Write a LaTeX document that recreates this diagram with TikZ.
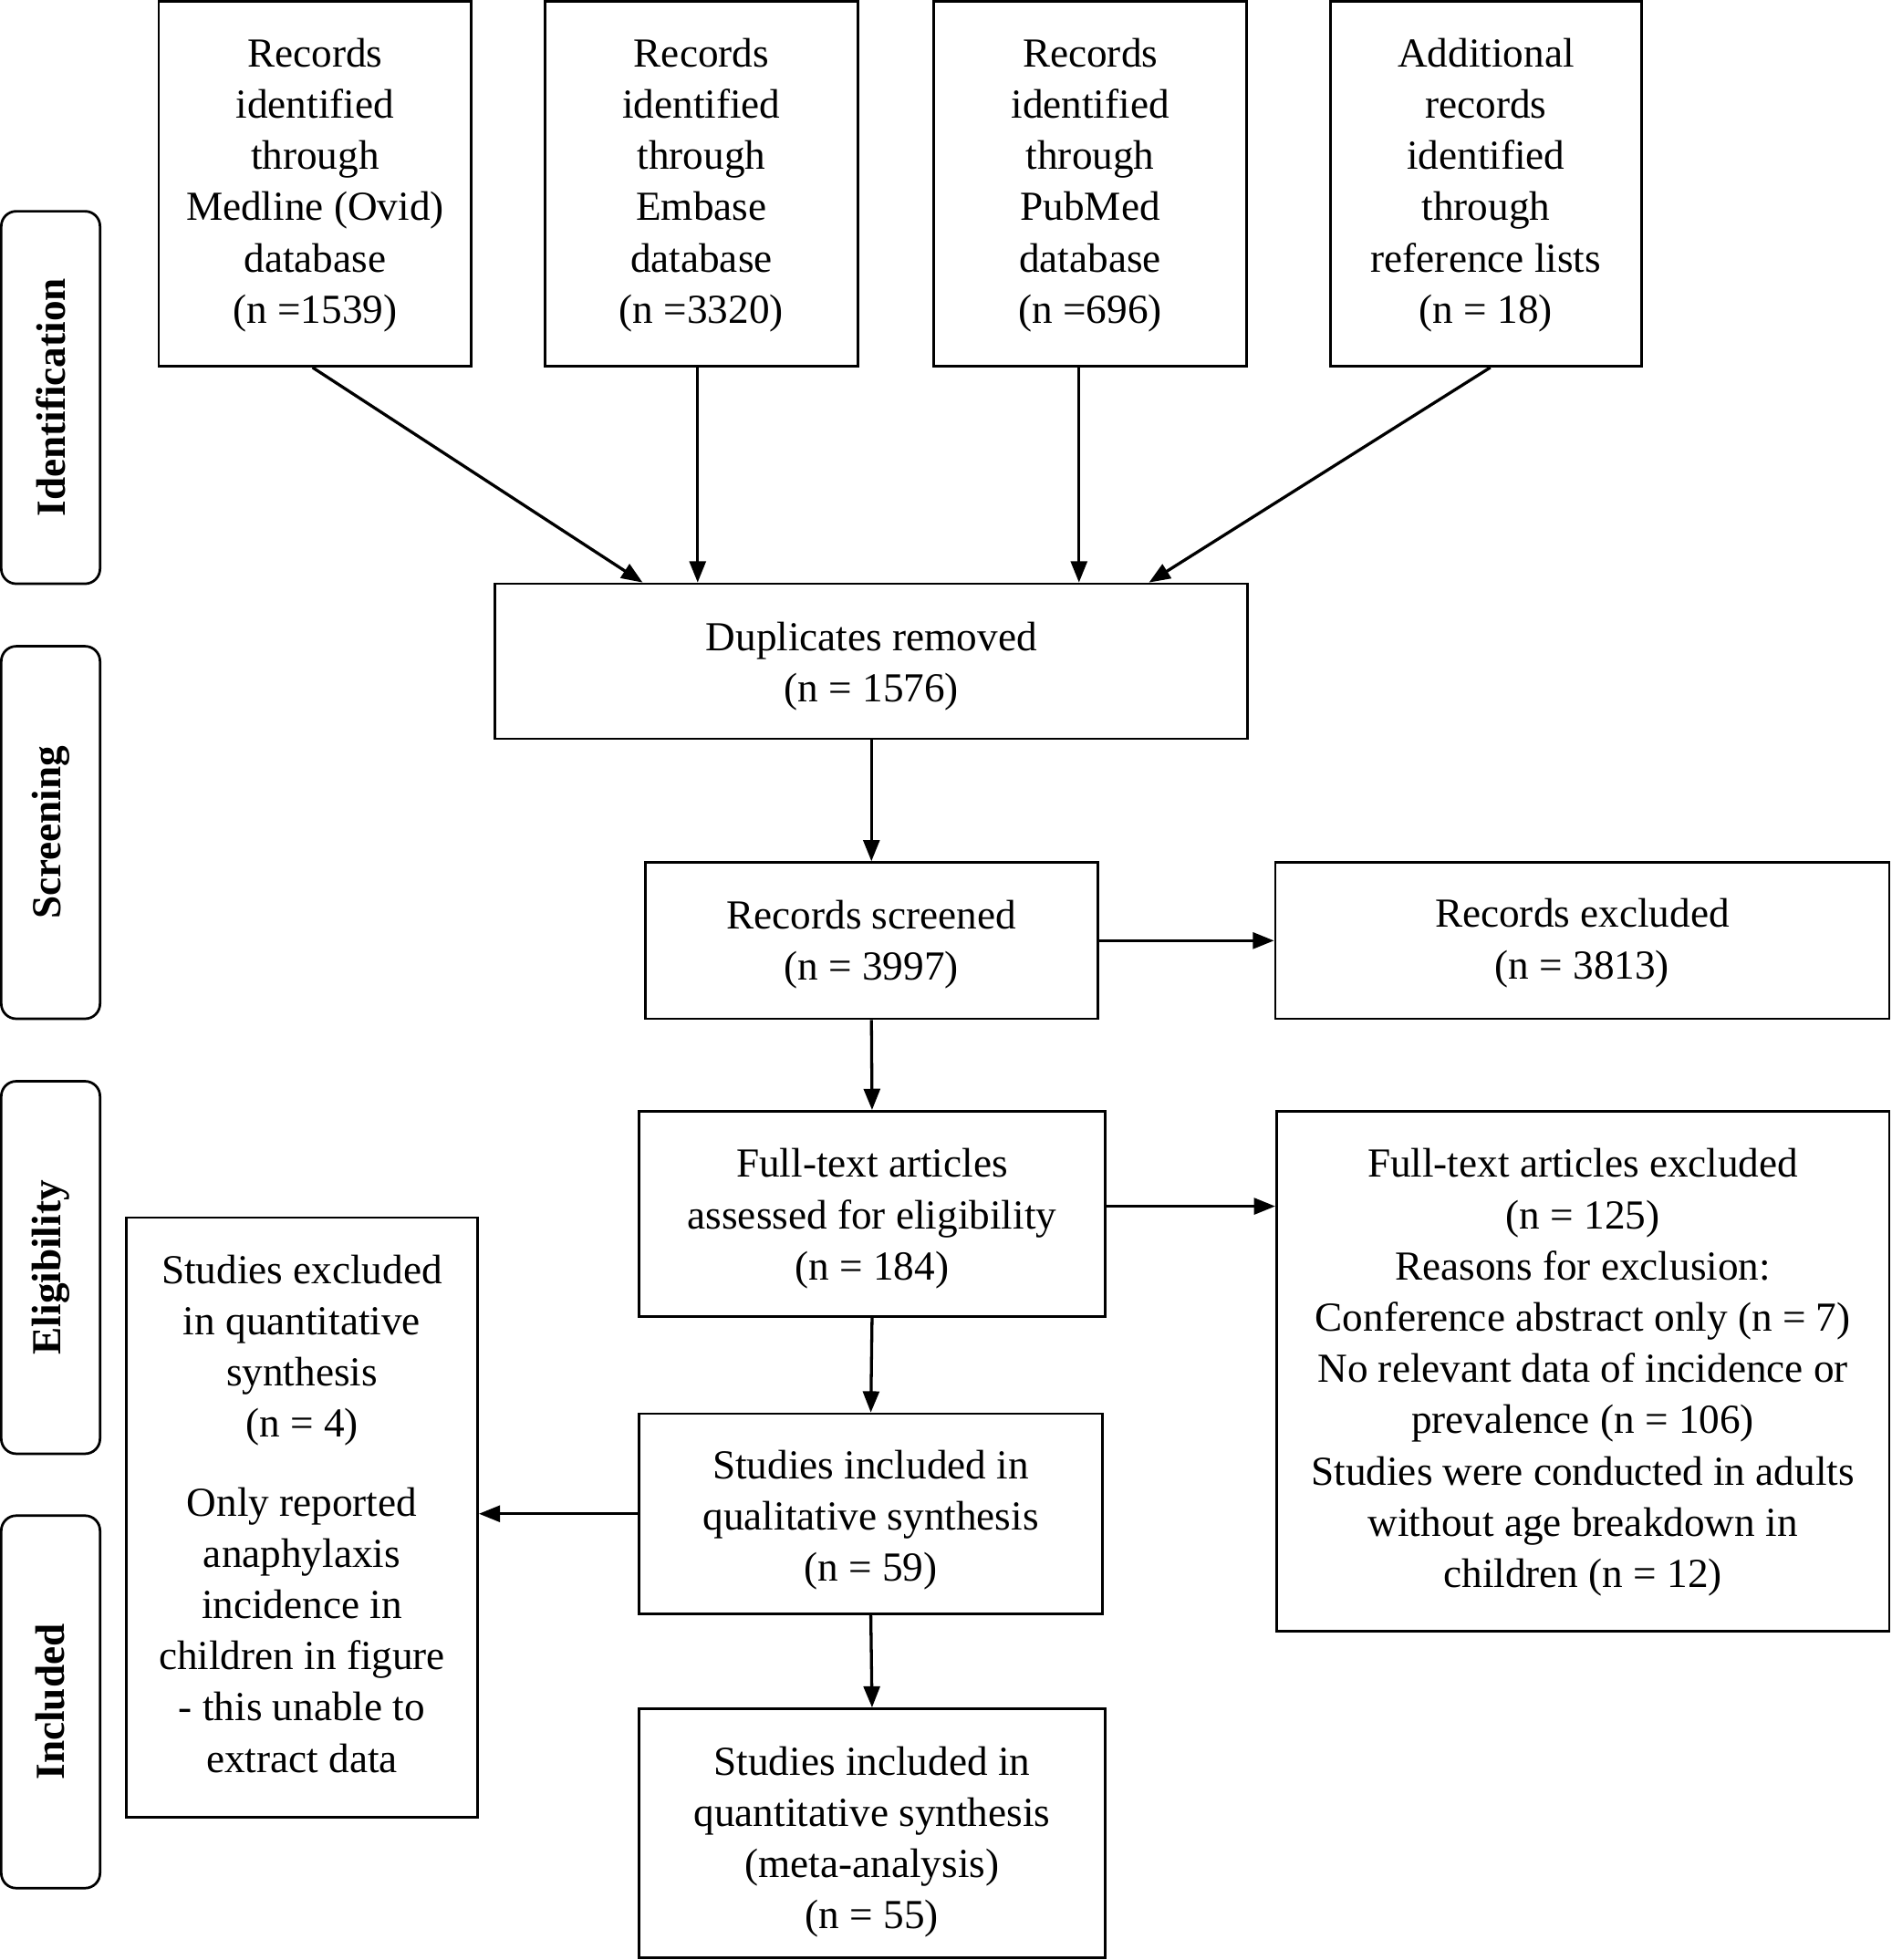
\documentclass[tikz,border=0pt]{standalone}
\usepackage{fontspec}
\setmainfont{Liberation Serif}
\usetikzlibrary{arrows.meta,calc}
\begin{document}
\begin{tikzpicture}[x=0.5pt,y=-0.5pt,
  txt/.style={font=\fontsize{16.5pt}{20.5pt}\selectfont, align=center, inner sep=0pt},
  box/.style={draw, line width=1pt, inner sep=0pt},
  side/.style={draw, line width=1pt, rounded corners=6pt, inner sep=0pt, rotate=90,
    minimum width=149pt, minimum height=39.5pt, font=\fontsize{16.5pt}{20.5pt}\selectfont\bfseries},
  arr/.style={line width=1.2pt, -{Triangle[length=8.5pt,width=6.5pt]}}]
\useasboundingbox (0,0) rectangle (1513,1568);
% side labels
\node[side] (sid) at (40.5,318) {Identification};
\node[side] (ssc) at (40.5,666) {Screening};
\node[side] (sel) at (40.5,1014) {Eligibility};
\node[side] (sin) at (40.5,1361.5) {Included};
% top row
\node[box, minimum width=125pt, minimum height=146pt] (b1) at (252,147) {};
\node[txt] (b1t) at ($(b1.center)+(0,1)$)
  {Records\\identified\\through\\Medline (Ovid)\\database\\(n =1539)};
\node[box, minimum width=125pt, minimum height=146pt] (b2) at (561,147) {};
\node[txt] (b2t) at ($(b2.center)+(0,1)$)
  {Records\\identified\\through\\Embase\\database\\(n =3320)};
\node[box, minimum width=125pt, minimum height=146pt] (b3) at (872,147) {};
\node[txt] (b3t) at ($(b3.center)+(0,1)$)
  {Records\\identified\\through\\PubMed\\database\\(n =696)};
\node[box, minimum width=124.5pt, minimum height=146pt] (b4) at (1188.5,147) {};
\node[txt] (b4t) at ($(b4.center)+(0,1)$)
  {Additional\\records\\identified\\through\\reference lists\\(n = 18)};
% main column
\node[box, minimum width=301pt, minimum height=62pt] (dup) at (697,529) {};
\node[txt] (dupt) at ($(dup.center)+(0,4)$) {Duplicates removed\\(n = 1576)};
\node[box, minimum width=181pt, minimum height=62.5pt] (scr) at (697,752.5) {};
\node[txt] (scrt) at ($(scr.center)+(0,3)$) {Records screened\\(n = 3997)};
\node[box, minimum width=245.5pt, minimum height=62.5pt] (exc) at (1265.5,752.5) {};
\node[txt] (exct) at ($(exc.center)+(0,2)$) {Records excluded\\(n = 3813)};
\node[box, minimum width=186.5pt, minimum height=82pt] (ft) at (697.5,971) {};
\node[txt] (ftt) at ($(ft.center)+(0,4)$)
  {Full-text articles\\assessed for eligibility\\(n = 184)};
\node[box, minimum width=245pt, minimum height=208pt] (ftex) at (1266,1097) {};
\node[txt] (ftext) at ($(ftex.center)+(0,1)$)
  {Full-text articles excluded\\(n = 125)\\Reasons for exclusion:\\Conference abstract only (n = 7)\\No relevant data of incidence or\\prevalence (n = 106)\\Studies were conducted in adults\\without age breakdown in\\children (n = 12)};
\node[box, minimum width=185.5pt, minimum height=80pt] (qual) at (696.5,1211) {};
\node[txt] (qualt) at ($(qual.center)+(0,5)$)
  {Studies included in\\qualitative synthesis\\(n = 59)};
\node[box, minimum width=140.5pt, minimum height=240pt] (lex) at (241.5,1214) {};
\node[txt] (lext) at ($(lex.center)+(0,-3)$)
  {Studies excluded\\in quantitative\\synthesis\\(n = 4)\\[11pt]Only reported\\anaphylaxis\\incidence in\\children in figure\\- this unable to\\extract data};
\node[box, minimum width=186.5pt, minimum height=99.5pt] (quant) at (697.5,1466.5) {};
\node[txt] (quantt) at ($(quant.center)+(0,7)$)
  {Studies included in\\quantitative synthesis\\(meta-analysis)\\(n = 55)};
% arrows from top row
\coordinate (t1) at ($(dup.north west)+(119,0)$);
\draw[arr] ($(b1.south)+(-2,0)$) -- (t1);
\coordinate (s2) at ($(b2.south)+(-3,0)$);
\draw[arr] (s2) -- (s2 |- dup.north);
\coordinate (s3) at ($(b3.south)+(-9,0)$);
\draw[arr] (s3) -- (s3 |- dup.north);
\coordinate (t4) at ($(dup.north east)+(-80,0)$);
\draw[arr] ($(b4.south)+(3.5,0)$) -- (t4);
% main flow
\draw[arr] (dup.south) -- (scr.north);
\draw[arr] (scr.east) -- (exc.west);
\draw[arr] (scr.south) -- (ft.north);
\coordinate (fe) at ($(ft.east)+(0,-6)$);
\draw[arr] (fe) -- (fe -| ftex.west);
\draw[arr] (ft.south) -- (qual.north);
\draw[arr] (qual.west) -- (qual.west -| lex.east);
\draw[arr] (qual.south) -- (quant.north);
\end{tikzpicture}
\end{document}
